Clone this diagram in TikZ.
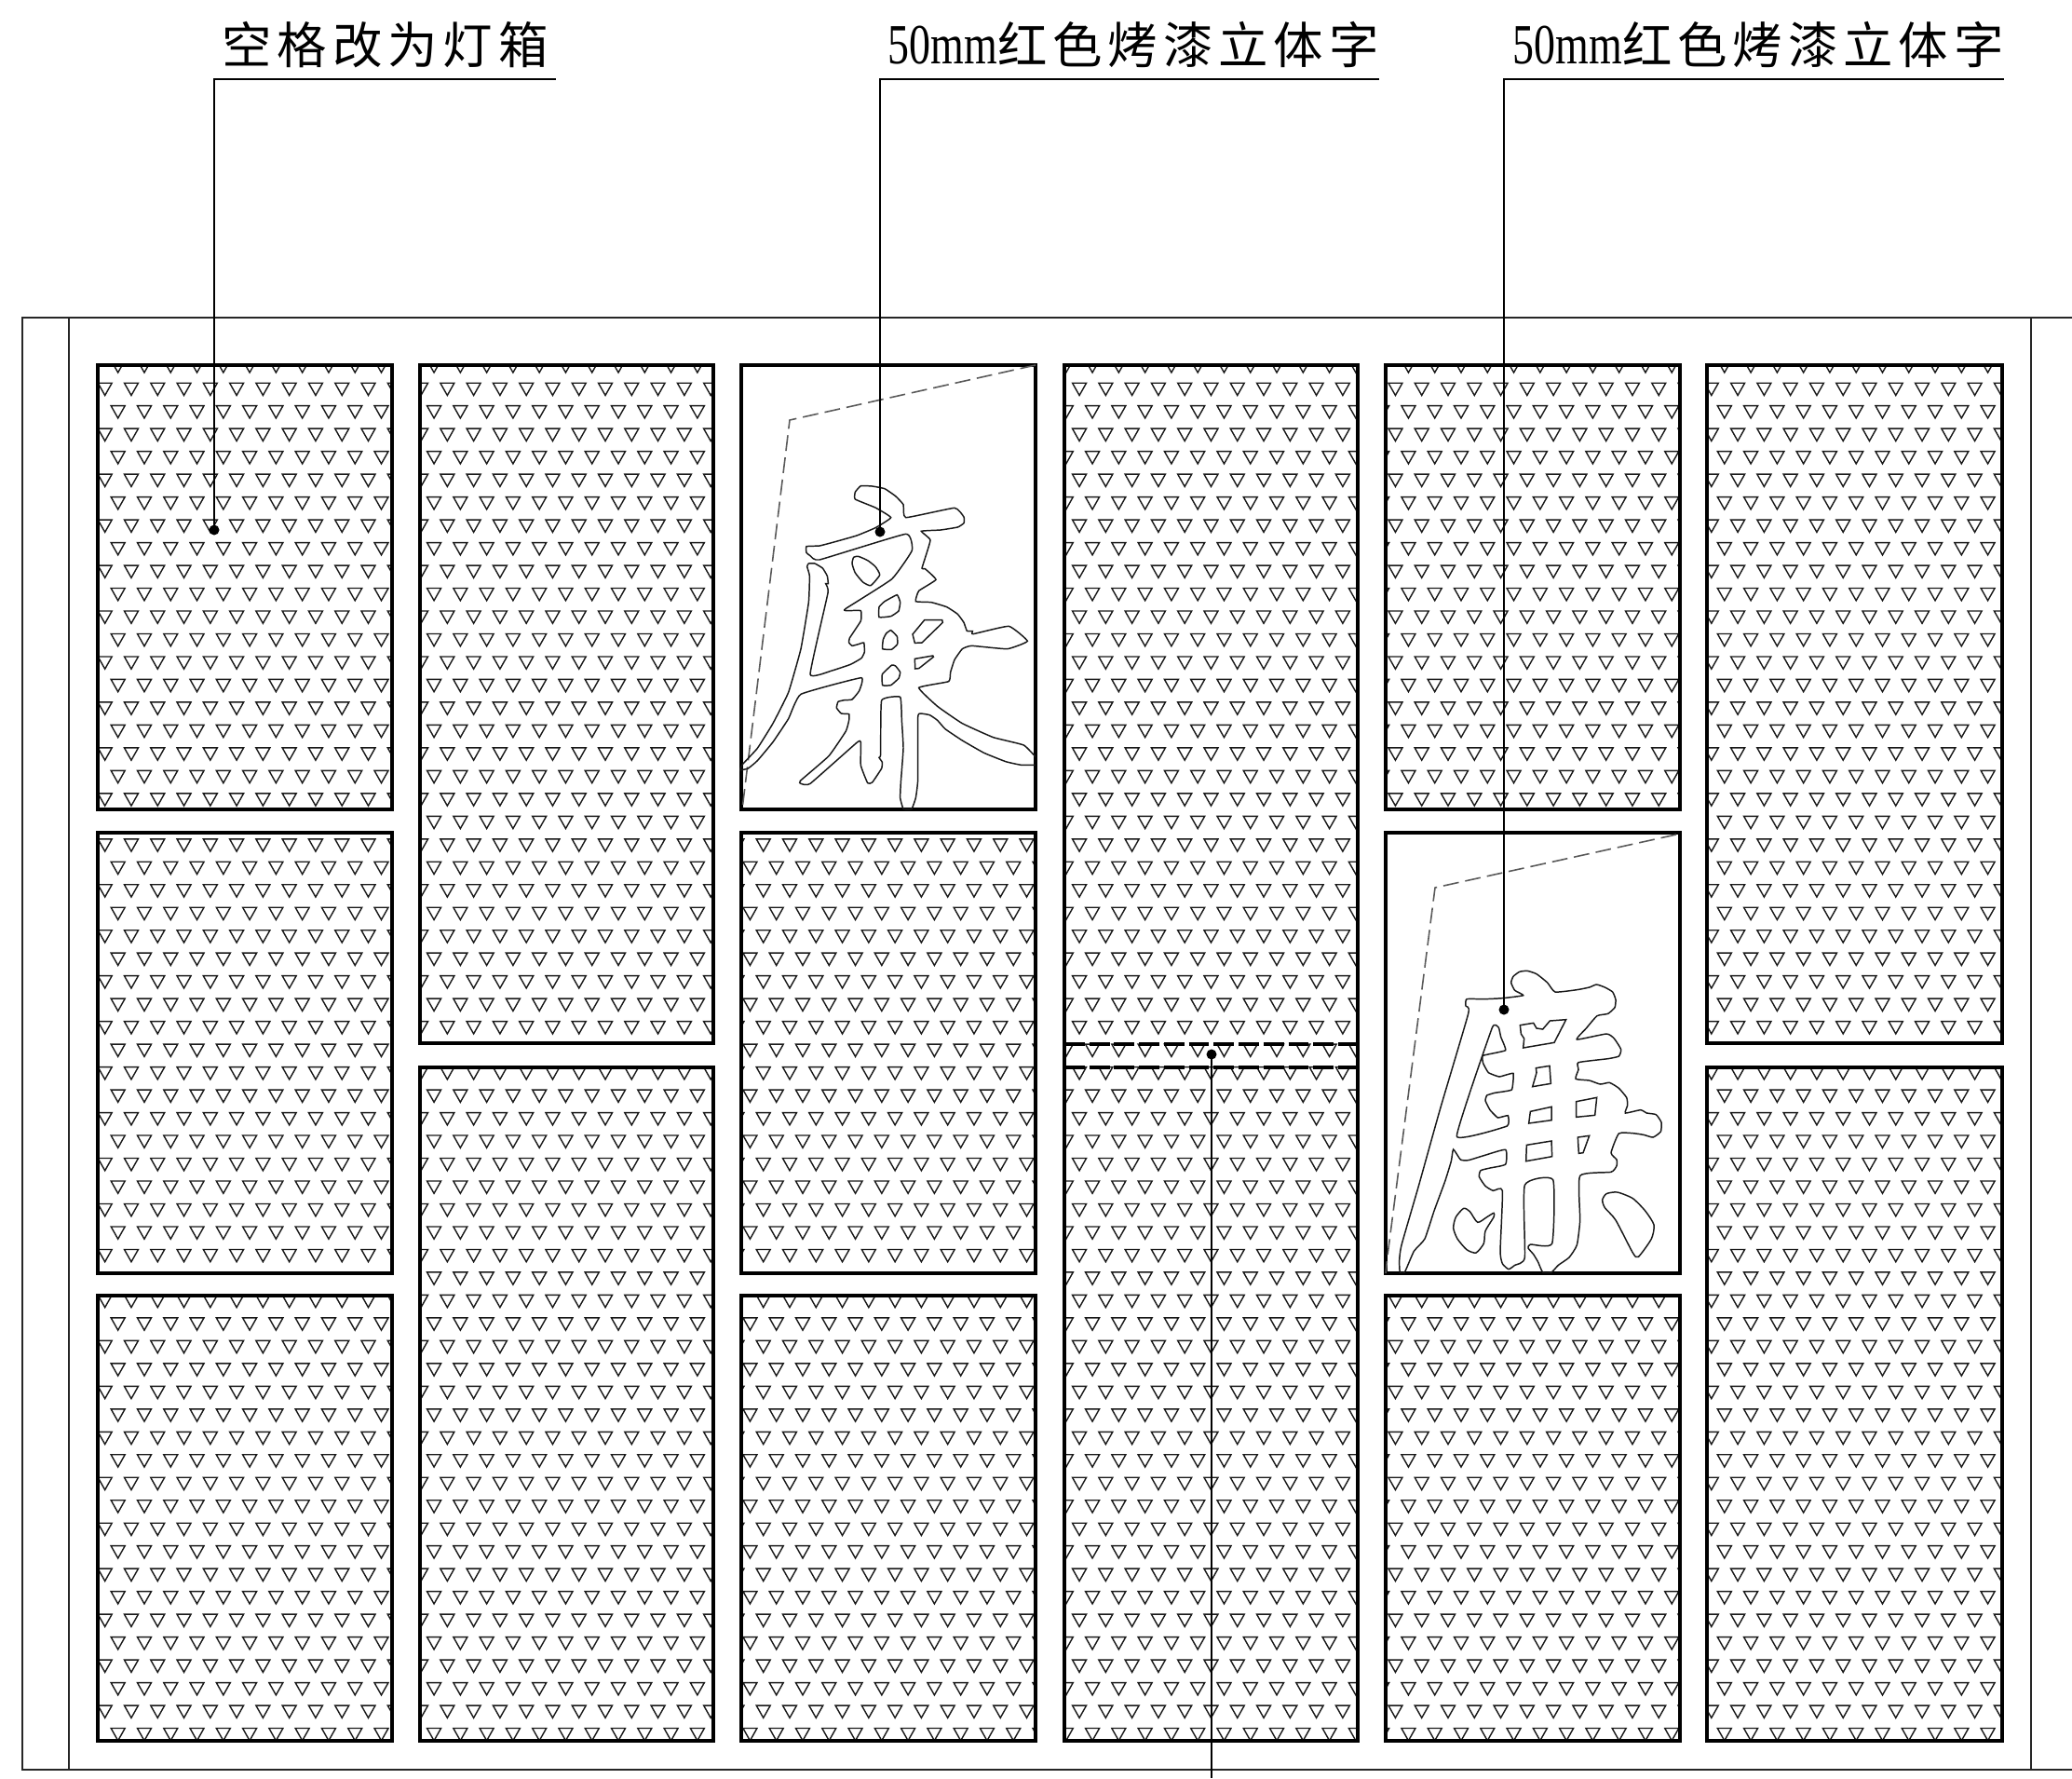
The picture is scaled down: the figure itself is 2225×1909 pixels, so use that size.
\documentclass[tikz,border=0pt]{standalone}
\usepackage{fontspec}
\usepackage{tikz}
\setmainfont{Liberation Serif}
\newfontfamily\cjk[LetterSpace=11]{Noto Sans CJK SC}
\usetikzlibrary{calc,positioning}
\tikzset{
    panel/.style={line width=1.05pt, black},
    thin line/.style={line width=0.4pt, black!85},
    leader/.style={line width=0.4pt, black},
    ghost/.style={line width=0.45pt, black!65, dash pattern=on 4.8pt off 2pt},
    seam/.style={line width=1.05pt, black, dash pattern=on 6.2pt off 1.4pt},
    glyph/.style={line width=0.42pt, black!90},
    tri/.style={line width=0.4pt, black!90},
    note/.style={font=\fontsize{15.2}{15.2}\selectfont, anchor=base west, inner sep=0pt}
}
\newcommand{\sizedigits}[1]{\scalebox{0.86}[1.14]{\fontsize{15.2}{15.2}\selectfont #1}}

\begin{document}
\begin{tikzpicture}[x=0.01cm,y=-0.01cm]
    \useasboundingbox (0,0) rectangle (2225,1909);

    % outer frame
    \draw[thin line] (2225,341) -- (24,341) -- (24,1900) -- (2225,1900);
    \draw[thin line] (74,341) -- (74,1900);
    \draw[thin line] (2181,341) -- (2181,1900);

    % triangles, cut to the panels
    \begin{scope}
        \clip (105,392) rectangle (421,869)
              (105,894) rectangle (421,1367)
              (105,1391) rectangle (421,1869)
              (451,392) rectangle (766,1120)
              (451,1146) rectangle (766,1869)
              (796,894) rectangle (1112,1367)
              (796,1391) rectangle (1112,1869)
              (1143,392) rectangle (1458,1869)
              (1488,392) rectangle (1804,869)
              (1488,1391) rectangle (1804,1869)
              (1833,392) rectangle (2150,1120)
              (1833,1146) rectangle (2150,1869);
        \foreach \row in {0,...,30} {
            \foreach \col in {0,...,72} {
                \draw[tri] ({126.7+28.28*\col-7.5},{400+48.96*\row-13.3}) -- ++(15,0) -- ++(-7.5,13.3) -- cycle;
                \draw[tri] ({112.7+28.28*\col-7.5},{424.5+48.96*\row-13.3}) -- ++(15,0) -- ++(-7.5,13.3) -- cycle;
            }
        }
    \end{scope}

    % panels
    \foreach \xa/\ya/\xb/\yb in {
        105/392/421/869, 105/894/421/1367, 105/1391/421/1869,
        451/392/766/1120, 451/1146/766/1869,
        796/392/1112/869, 796/894/1112/1367, 796/1391/1112/1869,
        1488/392/1804/869, 1488/894/1804/1367, 1488/1391/1804/1869,
        1833/392/2150/1120, 1833/1146/2150/1869} {
        \draw[panel] (\xa,\ya) rectangle (\xb,\yb);
    }
    \draw[panel] (1143,1121) -- (1143,392) -- (1458,392) -- (1458,1121);
    \draw[panel] (1143,1146) -- (1143,1869) -- (1458,1869) -- (1458,1146);
    \draw[panel] (1143,1121) -- (1143,1146);
    \draw[panel] (1458,1121) -- (1458,1146);
    \draw[seam] (1143,1121) -- (1458,1121);
    \draw[seam] (1143,1146) -- (1458,1146);

    % first character
    \draw[ghost] (1112,392) -- (848,451) -- (797,869);
    \begin{scope}[shift={(780,380)},x=0.01cm/3,y=-0.01cm/3]
        \clip (0,0) rectangle (995,1467);
        \draw[glyph] plot[smooth cycle,tension=0.22] coordinates {
            (415,445) (433,425) (470,426) (510,434) (545,458) (570,485) (578,527) (735,496) (765,525) (765,545)
            (745,558) (690,567) (628,571) (657,600) (630,690) (640,692) (675,727) (620,763) (610,797) (660,800)
            (710,815) (745,838) (765,865) (775,892) (793,893) (795,902) (910,877) (970,925) (905,950) (790,940)
            (760,950) (735,985) (722,1025) (716,1055) (620,1075) (680,1135) (760,1190) (860,1235) (958,1260) (1002,1305)
            (1002,1323) (950,1324) (900,1313) (830,1285) (760,1245) (705,1208) (680,1180) (655,1163) (625,1158) (617,1170)
            (617,1370) (610,1430) (597,1465) (570,1465) (560,1430) (562,1380) (570,1270) (565,1180) (560,1105) (500,1116)
            (497,1290) (492,1300) (502,1315) (500,1335) (470,1380) (455,1382) (433,1325) (433,1250) (420,1252) (270,1384)
            (240,1384) (238,1375) (330,1295) (385,1215) (395,1180) (395,1160) (370,1158) (355,1140) (360,1120) (380,1115)
            (405,1113) (428,1085) (434,1043) (240,1096) (200,1175) (150,1250) (100,1310) (70,1335) (45,1340) (52,1322)
            (100,1270) (150,1190) (200,1090) (240,950) (265,800) (268,715) (260,685) (265,675) (285,675) (310,690)
            (325,715) (328,740) (320,740) (327,770) (270,1032) (340,1020) (400,1000) (435,980) (445,960) (443,930)
            (425,935) (405,940) (395,930) (397,915) (433,860) (433,827) (385,827) (385,820) (533,725) (598,633)
            (578,580) (300,663) (270,650) (258,640) (258,620) (300,618) (350,605) (420,585) (480,560) (530,527)
            (480,495) (415,468)};
        \draw[glyph] plot[smooth cycle,tension=0.3] coordinates {(410,655) (425,652) (455,665) (480,685) (494,712) (465,746) (440,735) (415,705) (405,675)};
        \draw[glyph] plot[smooth cycle,tension=0.2] coordinates {(492,815) (510,797) (550,776) (560,800) (555,828) (530,845) (492,848)};
        \draw[glyph] plot[smooth cycle,tension=0.2] coordinates {(503,950) (505,920) (515,900) (530,890) (550,910) (551,935) (532,952)};
        \draw[glyph] (600,903) -- (638,857) -- (695,857) -- (697,865) -- (630,930) -- (607,931) -- cycle;
        \draw[glyph] (607,982) -- (665,972) -- (667,976) -- (620,1013) -- (608,1014) -- cycle;
        \draw[glyph] plot[smooth cycle,tension=0.2] coordinates {(502,1032) (533,1002) (545,1005) (560,1025) (555,1045) (530,1067) (503,1067)};
    \end{scope}

    % second character
    \draw[ghost] (1800,896) -- (1541,953) -- (1490,1348) -- (1488,1367);
    \begin{scope}[shift={(1480,880)},x=0.01cm/3,y=-0.01cm/3]
        \clip (0,0) rectangle (975,1460);
        \draw[glyph] plot[smooth cycle,tension=0.3] coordinates {
            (285,578) (340,578) (400,575) (467,566) (440,550) (428,525) (435,505) (455,490) (480,487) (510,497)
            (545,525) (570,555) (640,548) (680,540) (703,531) (730,540) (755,555) (765,580) (762,605) (740,625)
            (705,632) (670,672) (640,708) (735,690) (760,705) (782,740) (775,762) (740,770) (645,782) (645,805)
            (636,835) (680,840) (715,852) (745,847) (775,865) (800,895) (803,920) (796,945) (845,935) (865,945)
            (895,950) (912,975) (910,1005) (885,1023) (855,1015) (820,1010) (775,1011) (750,1073) (768,1095) (768,1115)
            (750,1135) (650,1147) (650,1290) (640,1370) (615,1410) (580,1435) (558,1458) (530,1458) (515,1425) (500,1400)
            (483,1380) (490,1368) (560,1365) (563,1160) (472,1177) (472,1410) (440,1435) (420,1448) (400,1430) (393,1390)
            (400,1195) (370,1195) (345,1180) (325,1150) (330,1130) (360,1122) (410,1110) (410,1063) (340,1082) (290,1097)
            (265,1095) (242,1062) (235,1100) (215,1165) (180,1260) (150,1350) (115,1390) (85,1458) (70,1458) (68,1420)
            (75,1370) (130,1180) (200,930) (290,625) (282,600)};
        \draw[glyph] plot[smooth cycle,tension=0.2] coordinates {
            (367,670) (388,670) (395,700) (410,743) (337,760) (338,785) (355,815) (390,828) (435,817) (430,870)
            (375,880) (350,888) (345,905) (360,935) (385,960) (418,953) (415,987) (253,1020)};
        \draw[glyph] (457,662) -- (500,655) -- (510,672) -- (530,675) -- (553,648) -- (605,644) -- (567,718) -- (467,735) -- (470,705) -- (460,690) -- cycle;
        \draw[glyph] (508,800) -- (552,793) -- (556,850) -- (497,860) -- (510,815) -- cycle;
        \draw[glyph] (638,908) -- (704,895) -- (698,952) -- (638,958) -- cycle;
        \draw[glyph] (490,940) -- (558,925) -- (558,968) -- (485,978) -- cycle;
        \draw[glyph] (643,1023) -- (680,1018) -- (660,1073) -- (646,1075) -- cycle;
        \draw[glyph] (478,1048) -- (558,1035) -- (560,1085) -- (476,1100) -- cycle;
        \draw[glyph] plot[smooth cycle,tension=0.4] coordinates {(242,1315) (250,1280) (275,1252) (295,1262) (320,1297) (350,1280) (372,1267) (372,1280) (345,1325) (340,1365) (315,1395) (285,1385) (255,1350)};
        \draw[glyph] plot[smooth cycle,tension=0.4] coordinates {(722,1225) (735,1205) (770,1200) (820,1220) (860,1260) (888,1305) (880,1350) (838,1408) (820,1395) (765,1290) (730,1250)};
    \end{scope}

    % labels
    \node[note] (lamptext) at (238,68) {\cjk 空格改为灯箱};
    \node[note] (redtexta) at (953,68) {\sizedigits{50mm}\cjk 红色烤漆立体字};
    \node[note] (redtextb) at (1624,68) {\sizedigits{50mm}\cjk 红色烤漆立体字};

    \coordinate (lampdot) at (230,569);
    \coordinate (lampknee) at (230,85);
    \coordinate (lampend) at (597,85);
    \coordinate (redadot) at (945,571);
    \coordinate (redaknee) at (945,85);
    \coordinate (redaend) at (1481,85);
    \coordinate (redbdot) at (1615,1084);
    \coordinate (redbknee) at (1615,85);
    \coordinate (redbend) at (2152,85);
    \coordinate (seamdot) at (1301,1132);
    \coordinate (seamend) at (1301,1909);

    \draw[leader] (lampdot) -- (lampknee) -- (lampend);
    \draw[leader] (redadot) -- (redaknee) -- (redaend);
    \draw[leader] (redbdot) -- (redbknee) -- (redbend);
    \draw[leader] (seamdot) -- (seamend);

    \foreach \dotname in {lampdot,redadot,redbdot,seamdot} {
        \fill (\dotname) circle (0.055cm);
    }
\end{tikzpicture}
\end{document}
